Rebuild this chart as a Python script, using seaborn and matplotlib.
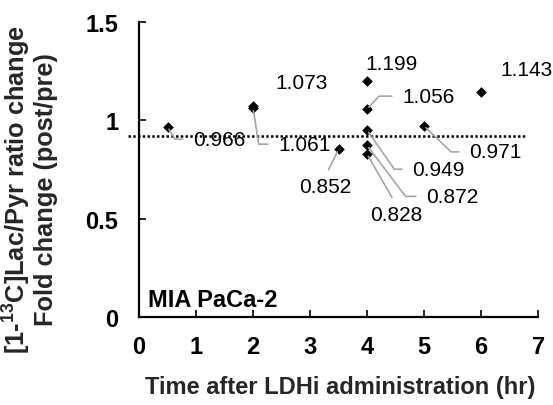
import matplotlib
matplotlib.use("Agg")
import matplotlib.pyplot as plt
import seaborn as sns
import pandas as pd

# Time after LDHi administration (hr) and fold change of the [1-13C]Lac/Pyr ratio
time_hr = [0.5, 2, 2, 3.5, 4, 4, 4, 4, 4, 5, 6]
fold_change = [0.966, 1.073, 1.061, 0.852, 1.199, 1.056, 0.949, 0.872, 0.828, 0.971, 1.143]
value_labels = ["0.966", "1.073", "1.061", "0.852", "1.199", "1.056",
                "0.949", "0.872", "0.828", "0.971", "1.143"]
threshold = 0.92
x_ticks = [0, 1, 2, 3, 4, 5, 6, 7]
y_ticks = [0, 0.5, 1, 1.5]
y_tick_labels = ["0", "0.5", "1", "1.5"]
cell_line = "MIA PaCa-2"

df = pd.DataFrame({"time": time_hr, "fold": fold_change, "label": value_labels})

sns.set_theme(style="ticks")
plt.rcParams["font.family"] = ["Liberation Sans", "DejaVu Sans"]
plt.rcParams["mathtext.fontset"] = "custom"
plt.rcParams["mathtext.rm"] = "Liberation Sans"
plt.rcParams["mathtext.bf"] = "Liberation Sans:bold"

fig = plt.figure(figsize=(5.53, 4.06), dpi=100)
ax = fig.add_axes([0.2514, 0.2167, 0.7216, 0.7273])

sns.scatterplot(data=df, x="time", y="fold", marker="D", s=24, color="black",
                edgecolor="black", linewidth=0.5, ax=ax, zorder=4, legend=False)

# reference line for no change
ax.plot([-0.19, 6.77], [threshold, threshold], color="black", lw=1.8,
        linestyle=(0, (1, 0.9)), clip_on=False, zorder=3)

# label placement: (dx, dy) in pixels from the marker, alignment, leader style
px = 0.72
placements = [
    dict(off=(25.5, -12.3), ha="left", lead=("angle", -59)),
    dict(off=(22, 23), ha="left", lead=None),
    dict(off=(25, -36), ha="left", lead=("angle", -81)),
    dict(off=(-13.5, -37), ha="center", lead=("straight", None)),
    dict(off=(-2, 17.5), ha="left", lead=None),
    dict(off=(35, 13), ha="left", lead=("angle", 47)),
    dict(off=(45, -39), ha="left", lead=("angle", -55)),
    dict(off=(59, -51), ha="left", lead=("angle", -53)),
    dict(off=(29, -60), ha="center", lead=("straight", None)),
    dict(off=(45, -26), ha="left", lead=("angle", -44)),
    dict(off=(19, 22.5), ha="left", lead=None),
]

for (_, row), pl in zip(df.iterrows(), placements):
    dx, dy = pl["off"]
    kw = dict(xy=(row["time"], row["fold"]), xytext=(dx * px, dy * px),
              textcoords="offset points", ha=pl["ha"], va="center",
              fontsize=15, color="black", zorder=5)
    lead = pl["lead"]
    if lead is not None:
        if lead[0] == "angle":
            kw["arrowprops"] = dict(arrowstyle="-", color="#a6a6a6", lw=1.2,
                                    shrinkA=5, shrinkB=2, relpos=(0, 0.5),
                                    connectionstyle=f"angle,angleA=0,angleB={lead[1]},rad=0")
        else:
            kw["arrowprops"] = dict(arrowstyle="-", color="#a6a6a6", lw=1.2,
                                    shrinkA=3, shrinkB=2, relpos=(0.5, 1),
                                    connectionstyle="arc3")
    ax.annotate(row["label"], **kw)

ax.text(0.0226, 0.06, cell_line, fontsize=17, fontweight="bold", color="black",
        ha="left", va="center", transform=ax.transAxes, zorder=1)

ax.set_xlim(0, 7)
ax.set_ylim(0, 1.5)
ax.set_xticks(x_ticks)
ax.set_xticklabels([str(t) for t in x_ticks], fontsize=17, fontweight="bold")
ax.set_yticks(y_ticks)
ax.set_yticklabels(y_tick_labels, fontsize=17, fontweight="bold")
ax.tick_params(axis="both", direction="in", length=5, width=1.2, colors="black")
ax.tick_params(axis="x", pad=13)
ax.tick_params(axis="y", pad=15)

for side in ["top", "right"]:
    ax.spines[side].set_visible(False)
for side in ["left", "bottom"]:
    ax.spines[side].set_linewidth(1.6)
    ax.spines[side].set_color("black")

ax.set_xlabel("Time after LDHi administration (hr)", fontsize=17, fontweight="bold")
ax.xaxis.set_label_coords(0.504, -0.195)
ax.set_ylabel("[1-$^{\\mathbf{13}}$C]Lac/Pyr ratio change\nFold change (post/pre)",
              fontsize=18.3, fontweight="bold", linespacing=1.05)
ax.yaxis.set_label_coords(-0.203, 0.434)

fig.savefig("out.png", dpi=100)
